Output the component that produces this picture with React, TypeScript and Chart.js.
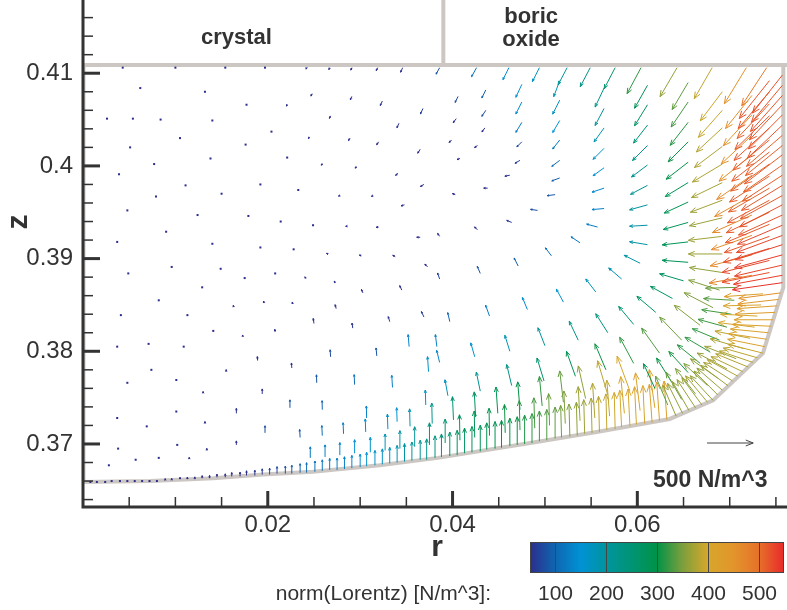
import React, { useEffect, useRef } from 'react';
import { Chart, registerables } from 'chart.js';

Chart.register(...registerables);

// ---------- axes ----------
const rMin = 0;
const rMax = 0.0762;
const zMin = 0.3632;
const zMax = 0.4179;
const xMajorTicks = [0.02, 0.04, 0.06];
const xMinorTicks = [0.005, 0.01, 0.015, 0.025, 0.03, 0.035, 0.045, 0.05, 0.055, 0.065, 0.07, 0.075];
const yMajorTicks = [0.37, 0.38, 0.39, 0.4, 0.41];
const yMinorTicks = [0.364, 0.366, 0.368, 0.372, 0.374, 0.376, 0.378, 0.382, 0.384, 0.386, 0.388, 0.392, 0.394, 0.396, 0.398, 0.402, 0.404, 0.406, 0.408, 0.412, 0.414, 0.416];

// ---------- domain outline ----------
const boundaryR = [0, 0.0073, 0.0141, 0.0195, 0.0249, 0.0321, 0.0384, 0.0484, 0.0556, 0.0635, 0.0682, 0.0736, 0.0758, 0.0758];
const boundaryZ = [0.3659, 0.366, 0.3663, 0.3667, 0.367, 0.3677, 0.3685, 0.3701, 0.3713, 0.3727, 0.3747, 0.3798, 0.3869, 0.4109];
const topLineZ = 0.4109;
const dividerR = 0.039;
const regionLabels = [
  { text: 'crystal', r: 0.0166, z: 0.41313 },
  { text: 'boric', r: 0.0485, z: 0.41539 },
  { text: 'oxide', r: 0.0485, z: 0.41291 },
];

// ---------- colour legend ----------
const cmapValues = [50, 100, 150, 200, 250, 300, 350, 400, 450, 500, 550];
const cmapColors = ['#2c2d8c', '#0f66b1', '#0092d5', '#00949f', '#009474', '#009247', '#7c9f3d', '#d6a72b', '#e2952b', '#e6722a', '#e82a2a'];
const colorbarTicks = [100, 200, 300, 400, 500];
const referenceMagnitude = 500; // N/m^3
const arrowScale = 1e-5; // metres of plot per N/m^3

// ---------- Lorentz force vectors: [r, z, Fr, Fz] ----------
const topRow = [
  [0.0043, 0.4106, -2, -3], [0.01, 0.4106, -2, -4], [0.0154, 0.4106, -3, -6], [0.0197, 0.4106, -4, -10],
  [0.0242, 0.4106, -5, -16], [0.0267, 0.4106, -8, -22], [0.0291, 0.4106, -11, -27], [0.0319, 0.4106, -16, -32],
  [0.0346, 0.4106, -22, -49], [0.0386, 0.4106, -38, -70], [0.0426, 0.4106, -54, -97], [0.0461, 0.4106, -65, -130],
  [0.0494, 0.4106, -76, -151], [0.0524, 0.4106, -97, -184], [0.0549, 0.4106, -108, -205], [0.0576, 0.4106, -119, -227],
  [0.0604, 0.4106, -151, -281], [0.0643, 0.4106, -184, -313], [0.0681, 0.4106, -194, -335], [0.0718, 0.4106, -238, -389],
  [0.074, 0.4106, -270, -410],
];

const wallColumn1 = [
  [0.0757, 0.4098, -324, -410], [0.0757, 0.4087, -335, -400], [0.0757, 0.4076, -346, -389], [0.0757, 0.4066, -356, -378],
  [0.0757, 0.4055, -367, -367], [0.0757, 0.4044, -378, -356], [0.0757, 0.4033, -389, -335], [0.0757, 0.4022, -400, -324],
  [0.0757, 0.4012, -410, -313], [0.0757, 0.4001, -421, -292], [0.0757, 0.399, -432, -281], [0.0757, 0.3979, -443, -270],
  [0.0757, 0.3968, -454, -248], [0.0757, 0.3958, -464, -238], [0.0757, 0.3947, -475, -216], [0.0757, 0.3936, -486, -205],
  [0.0757, 0.3925, -497, -184], [0.0757, 0.3915, -508, -162], [0.0757, 0.3904, -518, -140], [0.0757, 0.3893, -518, -119],
  [0.0757, 0.3882, -529, -97], [0.0757, 0.3874, -540, -76],
];

const wallColumn2 = [
  [0.0743, 0.4092, -326, -408], [0.0743, 0.408, -338, -396], [0.0743, 0.4067, -350, -374], [0.0743, 0.4054, -374, -362],
  [0.0743, 0.4041, -384, -350], [0.0743, 0.4028, -396, -326], [0.0743, 0.4015, -408, -315], [0.0743, 0.4002, -420, -292],
  [0.0743, 0.3989, -432, -280], [0.0743, 0.3976, -443, -257], [0.0743, 0.3963, -455, -245], [0.0743, 0.395, -467, -221],
  [0.0743, 0.3937, -478, -199], [0.0743, 0.3924, -490, -175], [0.0743, 0.3911, -501, -151], [0.0743, 0.3898, -513, -129],
  [0.0743, 0.3885, -513, -105],
];

const wallColumn3 = [
  [0.0724, 0.4076, -285, -356], [0.0724, 0.4055, -309, -332], [0.0724, 0.4033, -332, -309], [0.0724, 0.4012, -356, -285],
  [0.0724, 0.399, -381, -262], [0.0724, 0.3968, -404, -226], [0.0724, 0.3947, -428, -190], [0.0724, 0.3925, -440, -154],
  [0.0724, 0.3904, -451, -119], [0.0724, 0.3882, -463, -84],
];

const bottomRow1 = [
  [0.0008, 0.3659, 0, 5], [0.0015, 0.3659, 0, 5], [0.0024, 0.3659, 0, 6], [0.0031, 0.366, 0, 8], [0.004, 0.366, 0, 9],
  [0.0048, 0.366, 0, 10], [0.0056, 0.366, 0, 11], [0.0064, 0.366, 0, 12], [0.0072, 0.366, 0, 13], [0.008, 0.366, 0, 15],
  [0.0089, 0.3661, 0, 16], [0.0096, 0.3661, 0, 18], [0.0105, 0.3662, 0, 21], [0.0113, 0.3662, 0, 23], [0.0121, 0.3662, 0, 25],
  [0.0129, 0.3663, 0, 28], [0.0137, 0.3663, 0, 31], [0.0145, 0.3664, 0, 35], [0.0154, 0.3664, 0, 38], [0.0161, 0.3665, 0, 42],
  [0.017, 0.3665, 0, 46], [0.0177, 0.3666, 0, 51], [0.0186, 0.3666, 0, 56], [0.0194, 0.3667, 0, 62], [0.0202, 0.3667, 0, 68],
  [0.021, 0.3668, 0, 75], [0.0219, 0.3668, 0, 82], [0.0226, 0.3668, 0, 90], [0.0235, 0.3669, 0, 97], [0.0242, 0.3669, 0, 108],
  [0.0251, 0.367, 0, 116], [0.0259, 0.3671, 0, 119], [0.0267, 0.3672, 0, 124], [0.0275, 0.3672, 0, 127], [0.0283, 0.3673, 0, 132],
  [0.0291, 0.3674, 0, 136], [0.03, 0.3675, 0, 140], [0.0307, 0.3676, 0, 151], [0.0316, 0.3677, 0, 160], [0.0324, 0.3678, 0, 167],
  [0.0332, 0.3679, 0, 173], [0.034, 0.368, 0, 184], [0.0348, 0.3681, 0, 194], [0.0356, 0.3682, 0, 201], [0.0365, 0.3683, 0, 211],
  [0.0372, 0.3683, 0, 225], [0.0381, 0.3685, 0, 238], [0.0388, 0.3686, 0, 248], [0.0397, 0.3687, 0, 259], [0.0405, 0.3688, 0, 268],
  [0.0413, 0.369, 0, 272], [0.0421, 0.3691, 0, 278], [0.043, 0.3692, 0, 283], [0.0437, 0.3694, 0, 288], [0.0446, 0.3695, 0, 292],
  [0.0453, 0.3696, 0, 294], [0.0462, 0.3698, 0, 298], [0.047, 0.3699, 0, 304], [0.0478, 0.37, 0, 311], [0.0486, 0.3701, 0, 318],
  [0.0494, 0.3703, 0, 326], [0.0502, 0.3704, 0, 332], [0.0511, 0.3706, 0, 338], [0.0518, 0.3707, -10, 346], [0.0527, 0.3708, -10, 351],
  [0.0535, 0.3709, -10, 360], [0.0543, 0.3711, -10, 368], [0.0551, 0.3712, -10, 375], [0.0559, 0.3713, -10, 384], [0.0567, 0.3715, -10, 390],
  [0.0576, 0.3716, -10, 396], [0.0583, 0.3718, -20, 399], [0.0592, 0.3719, -20, 403], [0.0599, 0.3721, -20, 408], [0.0608, 0.3722, -20, 410],
  [0.0616, 0.3723, -30, 413], [0.0624, 0.3725, -30, 418], [0.0632, 0.3726, -30, 420],
];

const bottomRow2 = [
  [0.0246, 0.3685, 0, 119], [0.0262, 0.3686, 0, 130], [0.0278, 0.3688, 0, 135], [0.0294, 0.369, 0, 146], [0.0311, 0.3691, 0, 162],
  [0.0327, 0.3693, 0, 178], [0.0343, 0.3695, 0, 194], [0.0359, 0.3697, 0, 216], [0.0375, 0.3699, 0, 238], [0.0392, 0.3701, 0, 259],
  [0.0408, 0.3704, -5, 275], [0.0424, 0.3707, -5, 286], [0.044, 0.3709, -5, 295], [0.0457, 0.3712, -8, 305], [0.0473, 0.3715, -8, 318],
  [0.0489, 0.3717, -10, 328], [0.0505, 0.372, -10, 343], [0.0522, 0.3722, -15, 352], [0.0538, 0.3725, -20, 368], [0.0554, 0.3728, -25, 377],
  [0.057, 0.373, -30, 387], [0.0586, 0.3733, -40, 397], [0.0603, 0.3736, -50, 407], [0.0619, 0.3739, -60, 412],
];

const bottomRow3 = [
  [0.0235, 0.3707, -5, 86], [0.0259, 0.3709, -5, 108], [0.0282, 0.3711, -5, 119], [0.0306, 0.3713, -5, 140], [0.033, 0.3716, -5, 162],
  [0.0354, 0.3719, -5, 189], [0.0378, 0.3722, -5, 221], [0.0401, 0.3726, -11, 250], [0.0425, 0.3729, -15, 272], [0.0449, 0.3733, -20, 285],
  [0.0473, 0.3737, -25, 300], [0.0497, 0.3741, -30, 318], [0.052, 0.3745, -40, 338], [0.0544, 0.3749, -79, 352], [0.0568, 0.3753, -110, 368],
  [0.0592, 0.3757, -139, 377],
];

const cornerFan1 = [
  [0.0642, 0.373, -143, 333], [0.0649, 0.3733, -162, 323], [0.0656, 0.3736, -180, 313], [0.0663, 0.3739, -200, 304],
  [0.067, 0.3742, -218, 295], [0.0676, 0.3745, -238, 285], [0.0682, 0.3747, -247, 266], [0.0687, 0.3753, -257, 257],
  [0.0692, 0.3758, -275, 238], [0.0698, 0.3763, -295, 218], [0.0703, 0.3768, -313, 200], [0.0709, 0.3773, -333, 180],
  [0.0714, 0.3778, -342, 162], [0.072, 0.3783, -352, 143], [0.0725, 0.3788, -361, 123], [0.073, 0.3793, -370, 105],
  [0.0736, 0.3798, -380, 95], [0.0738, 0.3805, -402, 80], [0.074, 0.3813, -412, 60], [0.0742, 0.382, -412, 40],
  [0.0745, 0.3827, -422, 20], [0.0747, 0.3834, -422, 0], [0.0749, 0.3842, -432, -20], [0.0751, 0.3849, -432, -30],
  [0.0753, 0.3856, -442, -50], [0.0755, 0.3863, -452, -60],
];

const cornerFan2 = [
  [0.0633, 0.3742, -133, 313], [0.0648, 0.3748, -171, 295], [0.0663, 0.3754, -218, 275], [0.0676, 0.3763, -257, 238],
  [0.0687, 0.3771, -295, 209], [0.0697, 0.3781, -323, 171], [0.0707, 0.3792, -342, 133], [0.0715, 0.3803, -361, 105],
  [0.0722, 0.3814, -380, 78], [0.0727, 0.3826, -395, 50], [0.073, 0.3838, -400, 20], [0.0734, 0.385, -410, -10],
  [0.0736, 0.3862, -420, -30],
];

const cornerFan3 = [
  [0.0619, 0.376, -123, 266], [0.0637, 0.3767, -162, 257], [0.0655, 0.3777, -209, 228], [0.0668, 0.3787, -247, 200],
  [0.0679, 0.3799, -275, 162], [0.0689, 0.3812, -295, 123], [0.0697, 0.3826, -313, 85], [0.0702, 0.384, -323, 48],
  [0.0705, 0.3855, -333, 19], [0.0708, 0.3869, -342, -10],
];

const arc60 = [
  [0.0395, 0.3752, -32, 173], [0.043, 0.3757, -43, 205], [0.0464, 0.3763, -54, 227], [0.0499, 0.3768, -76, 248],
  [0.0533, 0.3773, -97, 270], [0.0566, 0.378, -119, 281], [0.0596, 0.3787, -151, 281], [0.0624, 0.3798, -194, 270],
  [0.0648, 0.3812, -238, 248], [0.0668, 0.3828, -281, 216], [0.0682, 0.3847, -313, 162], [0.0689, 0.3866, -335, 108],
  [0.0692, 0.3885, -356, 54], [0.0692, 0.3905, -367, 0], [0.0692, 0.3924, -367, -43], [0.0692, 0.3944, -356, -86],
  [0.0692, 0.3963, -346, -130], [0.0692, 0.3982, -335, -162], [0.0692, 0.4002, -324, -194], [0.0692, 0.4021, -302, -227],
  [0.0692, 0.4041, -281, -259], [0.0692, 0.406, -259, -292], [0.0692, 0.408, -238, -313],
];

const arc95 = [
  [0.0386, 0.3788, -32, 130], [0.0424, 0.3794, -43, 151], [0.0462, 0.38, -54, 173], [0.05, 0.3806, -76, 194],
  [0.0536, 0.3812, -97, 205], [0.0568, 0.382, -130, 205], [0.0596, 0.3829, -162, 194], [0.062, 0.3842, -205, 173],
  [0.0638, 0.3857, -238, 130], [0.065, 0.3876, -259, 76], [0.0655, 0.3896, -281, 22], [0.0655, 0.3918, -281, -32],
  [0.0655, 0.3939, -270, -76], [0.0655, 0.3961, -259, -119], [0.0655, 0.3982, -248, -151], [0.0655, 0.4004, -238, -184],
  [0.0655, 0.4026, -216, -216], [0.0655, 0.4047, -194, -248], [0.0655, 0.4069, -184, -270], [0.0655, 0.409, -173, -292],
];

const arc135 = [
  [0.0397, 0.3832, -22, 97], [0.044, 0.3838, -43, 119], [0.0481, 0.3845, -54, 130], [0.052, 0.3853, -76, 140],
  [0.0555, 0.3864, -108, 140], [0.0583, 0.3878, -140, 119], [0.0603, 0.3895, -173, 86], [0.0611, 0.3915, -194, 32],
  [0.0611, 0.3936, -194, -11], [0.0611, 0.3958, -194, -54], [0.0611, 0.3979, -184, -97], [0.0611, 0.4001, -173, -130],
  [0.0611, 0.4022, -162, -162], [0.0611, 0.4044, -151, -194], [0.0611, 0.4066, -140, -227], [0.0611, 0.4087, -140, -248],
];

const arc180 = [
  [0.0386, 0.3878, -22, 65], [0.043, 0.3884, -32, 76], [0.0471, 0.3892, -43, 86], [0.0507, 0.3903, -65, 86],
  [0.0538, 0.3917, -97, 65], [0.0557, 0.3934, -119, 32], [0.0564, 0.3954, -130, -11], [0.0564, 0.3976, -130, -43],
  [0.0564, 0.3998, -119, -86], [0.0564, 0.4019, -119, -119], [0.0564, 0.4041, -108, -151], [0.0564, 0.4062, -97, -184],
  [0.0564, 0.4084, -97, -205],
];

const arc225 = [
  [0.0386, 0.3924, -22, 32], [0.0427, 0.3931, -32, 32], [0.0464, 0.3939, -54, 22], [0.0492, 0.3952, -76, 11],
  [0.0511, 0.3969, -86, -11], [0.0516, 0.3987, -86, -32], [0.0516, 0.4006, -86, -65], [0.0516, 0.4028, -76, -97],
  [0.0516, 0.4049, -76, -130], [0.0516, 0.4071, -76, -151], [0.0516, 0.4092, -65, -173],
];

const arc265 = [
  [0.0403, 0.3969, -32, 11], [0.0438, 0.3976, -43, 0], [0.0462, 0.399, -54, -11], [0.0473, 0.4006, -54, -32],
  [0.0475, 0.4026, -54, -54], [0.0475, 0.4047, -65, -108], [0.0475, 0.4069, -65, -130], [0.0475, 0.4088, -65, -140],
];

const arc300 = [
  [0.0408, 0.4008, -32, -11], [0.0427, 0.4022, -32, -22], [0.0435, 0.4041, -32, -43], [0.0436, 0.406, -43, -65],
  [0.0436, 0.4082, -43, -86],
];

const arc335 = [
  [0.0399, 0.4028, -27, -27], [0.0404, 0.4051, -32, -43], [0.0406, 0.4075, -32, -65],
];

const innerField = [
  [0.0062, 0.4084, -3, -5], [0.0132, 0.408, -3, -9], [0.0248, 0.4078, -13, -27], [0.0291, 0.4075, -16, -38],
  [0.0324, 0.407, -22, -49], [0.0368, 0.4062, -27, -59], [0.0026, 0.4051, -2, -4], [0.0054, 0.4051, -2, -4],
  [0.0084, 0.405, -3, -5], [0.014, 0.4049, -4, -9], [0.0177, 0.4066, -5, -11], [0.0221, 0.4066, -8, -15],
  [0.0268, 0.4054, -13, -27], [0.0342, 0.4046, -22, -49], [0.0051, 0.402, -3, -3], [0.0105, 0.403, -3, -4],
  [0.0176, 0.4023, -5, -8], [0.0204, 0.4037, -6, -11], [0.0245, 0.4031, -10, -16], [0.0289, 0.403, -16, -27],
  [0.032, 0.4026, -22, -32], [0.0365, 0.4018, -27, -43], [0.0077, 0.4002, -3, -3], [0.0039, 0.3991, -3, -1],
  [0.0138, 0.4008, -4, -4], [0.0221, 0.4009, -9, -9], [0.0259, 0.4002, -13, -12], [0.0296, 0.3999, -16, -14],
  [0.0341, 0.3992, -27, -22], [0.0369, 0.398, -38, -22], [0.0111, 0.3979, -4, -2], [0.0079, 0.3967, -4, -1],
  [0.015, 0.397, -5, -2], [0.0192, 0.398, -8, -3], [0.0233, 0.3974, -11, -4], [0.0278, 0.3968, -15, -5],
  [0.0314, 0.3968, -19, -8], [0.0348, 0.3958, -38, -11], [0.0048, 0.3952, -3, 0], [0.0124, 0.3947, -5, 0],
  [0.0179, 0.3946, -6, 0], [0.0214, 0.394, -10, 0], [0.0249, 0.3936, -13, -1], [0.0286, 0.3935, -17, -2],
  [0.032, 0.3934, -27, -2], [0.0365, 0.3923, -38, 0], [0.009, 0.3929, -4, 0], [0.0037, 0.3918, -3, 0],
  [0.014, 0.3916, -5, 1], [0.0192, 0.3912, -9, 2], [0.0228, 0.391, -12, 3], [0.0265, 0.3905, -15, 6],
  [0.0301, 0.3903, -19, 9], [0.0338, 0.3902, -27, 16], [0.0373, 0.3891, -30, 30], [0.0049, 0.3884, -2, 2],
  [0.0096, 0.3891, -3, 3], [0.0149, 0.3889, -4, 5], [0.0175, 0.3879, -5, 8], [0.0208, 0.3884, -8, 9],
  [0.0241, 0.3879, -9, 13], [0.0273, 0.3874, -11, 17], [0.0303, 0.3863, -16, 38], [0.0345, 0.3866, -22, 49],
  [0.0082, 0.3855, -2, 4], [0.0129, 0.3869, -3, 5], [0.0163, 0.3848, -3, 16], [0.0196, 0.3852, -5, 22],
  [0.0227, 0.3851, -5, 22], [0.0274, 0.3846, -11, 43], [0.0292, 0.3825, -8, 54], [0.0332, 0.3832, -16, 54],
  [0.0369, 0.3837, -27, 59], [0.0041, 0.3839, -1, 4], [0.0113, 0.3839, -2, 8], [0.0141, 0.3822, -2, 11],
  [0.0173, 0.3816, -3, 16], [0.0208, 0.3821, -4, 27], [0.025, 0.383, -8, 54], [0.0037, 0.3805, 0, 5],
  [0.0071, 0.3808, 0, 6], [0.0109, 0.3805, 0, 9], [0.0189, 0.379, -3, 43], [0.0226, 0.3782, -4, 54],
  [0.0268, 0.3794, -5, 76], [0.0318, 0.3795, -8, 86], [0.0353, 0.3805, -11, 130], [0.0383, 0.3805, -16, 130],
  [0.0074, 0.378, 0, 6], [0.0048, 0.3766, 0, 5], [0.0101, 0.3769, 0, 9], [0.0155, 0.3778, 0, 22],
  [0.0194, 0.3754, 0, 54], [0.0253, 0.3766, -3, 86], [0.0294, 0.3764, -5, 108], [0.0335, 0.3761, -8, 130],
  [0.0374, 0.3778, -11, 162], [0.0037, 0.3728, 0, 6], [0.0101, 0.3735, 0, 11], [0.013, 0.3755, 0, 16],
  [0.0166, 0.3733, 0, 54], [0.0224, 0.3739, 0, 86], [0.0259, 0.3737, -2, 97], [0.0307, 0.3728, -3, 130],
  [0.034, 0.3724, -5, 151], [0.0371, 0.3742, -5, 162], [0.0069, 0.3719, 0, 8], [0.0132, 0.3722, 0, 22],
  [0.0197, 0.3712, 0, 76], [0.0038, 0.3695, 0, 6], [0.0102, 0.3699, 0, 13], [0.0166, 0.3699, 0, 43],
  [0.0028, 0.3677, 0, 5], [0.0057, 0.3683, 0, 6], [0.0082, 0.3685, 0, 9], [0.0115, 0.3684, 0, 16],
  [0.0134, 0.3693, 0, 22],
];

const FONT = '"Liberation Sans", Arial, Helvetica, sans-serif';
const INK = '#333333';

function hexToRgb(h: string) {
  const n = parseInt(h.slice(1), 16);
  return [(n >> 16) & 255, (n >> 8) & 255, n & 255];
}

function colorFor(v: number): string {
  if (v <= cmapValues[0]) return cmapColors[0];
  const last = cmapValues.length - 1;
  if (v >= cmapValues[last]) return cmapColors[last];
  for (let i = 0; i < last; i++) {
    if (v <= cmapValues[i + 1]) {
      const t = (v - cmapValues[i]) / (cmapValues[i + 1] - cmapValues[i]);
      const a = hexToRgb(cmapColors[i]);
      const b = hexToRgb(cmapColors[i + 1]);
      return `rgb(${Math.round(a[0] + (b[0] - a[0]) * t)},${Math.round(a[1] + (b[1] - a[1]) * t)},${Math.round(a[2] + (b[2] - a[2]) * t)})`;
    }
  }
  return cmapColors[last];
}

function isIn(v: number, list: number[]) {
  return list.some((m) => Math.abs(m - v) < 1e-9);
}

function drawArrow(ctx: CanvasRenderingContext2D, x0: number, y0: number, x1: number, y1: number, maxHead: number) {
  const L = Math.hypot(x1 - x0, y1 - y0);
  const ang = Math.atan2(y1 - y0, x1 - x0);
  const h = Math.min(maxHead, Math.max(2, L * 0.2));
  const w = 0.38;
  ctx.beginPath();
  ctx.moveTo(x0, y0);
  ctx.lineTo(x1, y1);
  ctx.moveTo(x1 - h * Math.cos(ang - w), y1 - h * Math.sin(ang - w));
  ctx.lineTo(x1, y1);
  ctx.lineTo(x1 - h * Math.cos(ang + w), y1 - h * Math.sin(ang + w));
  ctx.stroke();
}

const overlayPlugin = {
  id: 'lorentzOverlay',
  afterDatasetsDraw(chart: any) {
    const { ctx, chartArea: a, scales } = chart;
    const xs = scales.x;
    const ys = scales.y;
    const ds = chart.data.datasets.find((d: any) => d.label === 'Lorentz');
    ctx.save();
    ctx.beginPath();
    ctx.rect(a.left, a.top, a.right - a.left, a.bottom - a.top);
    ctx.clip();
    ctx.lineWidth = 1;
    ctx.lineCap = 'butt';
    for (const p of ds.data) {
      const x0 = xs.getPixelForValue(p.x);
      const y0 = ys.getPixelForValue(p.y);
      const x1 = xs.getPixelForValue(p.x + p.fr * arrowScale);
      const y1 = ys.getPixelForValue(p.y + p.fz * arrowScale);
      const col = colorFor(Math.hypot(p.fr, p.fz));
      const L = Math.hypot(x1 - x0, y1 - y0);
      if (L < 1.4) {
        ctx.fillStyle = col;
        ctx.fillRect(x0 - 1, y0 - 1, 2, 2);
        continue;
      }
      ctx.strokeStyle = col;
      drawArrow(ctx, x0, y0, x1, y1, 8);
    }
    ctx.restore();
  },
  afterDraw(chart: any) {
    const { ctx, chartArea: a, scales } = chart;
    const xs = scales.x;
    const ys = scales.y;
    ctx.save();

    // axis lines
    ctx.strokeStyle = INK;
    ctx.lineWidth = 3;
    ctx.beginPath();
    ctx.moveTo(a.left, a.top);
    ctx.lineTo(a.left, a.bottom + 1.5);
    ctx.moveTo(a.left - 1.5, a.bottom);
    ctx.lineTo(a.right, a.bottom);
    ctx.stroke();

    // inward tick marks
    for (const t of xs.ticks) {
      const px = xs.getPixelForValue(t.value);
      const major = isIn(t.value, xMajorTicks);
      ctx.lineWidth = major ? 3 : 1.5;
      ctx.beginPath();
      ctx.moveTo(px, a.bottom);
      ctx.lineTo(px, a.bottom - (major ? 16 : 10));
      ctx.stroke();
    }
    for (const t of ys.ticks) {
      const py = ys.getPixelForValue(t.value);
      const major = isIn(t.value, yMajorTicks);
      ctx.lineWidth = major ? 3 : 1.5;
      ctx.beginPath();
      ctx.moveTo(a.left, py);
      ctx.lineTo(a.left + (major ? 17 : 10), py);
      ctx.stroke();
    }

    // axis titles
    ctx.fillStyle = INK;
    ctx.font = `bold 30px ${FONT}`;
    ctx.textAlign = 'center';
    ctx.textBaseline = 'alphabetic';
    ctx.fillText('r', 437, 556);
    ctx.save();
    ctx.translate(19, 222);
    ctx.rotate(-Math.PI / 2);
    ctx.fillText('z', 0, 8);
    ctx.restore();

    // region labels
    ctx.font = `bold 22px ${FONT}`;
    for (const l of regionLabels) {
      ctx.fillText(l.text, xs.getPixelForValue(l.r), ys.getPixelForValue(l.z));
    }

    // reference vector
    const refLen = xs.getPixelForValue(referenceMagnitude * arrowScale) - xs.getPixelForValue(0);
    ctx.strokeStyle = '#444';
    ctx.lineWidth = 1;
    drawArrow(ctx, 707, 443, 707 + refLen, 443, 8);
    ctx.fillStyle = INK;
    ctx.font = `bold 23px ${FONT}`;
    ctx.textAlign = 'left';
    ctx.fillText(`${referenceMagnitude} N/m^3`, 653, 487);

    // colour bar
    const cbL = 530;
    const cbR = 784;
    const cbT = 542;
    const cbB = 573;
    const span = cmapValues[cmapValues.length - 1] - cmapValues[0];
    const grad = ctx.createLinearGradient(cbL, 0, cbR, 0);
    cmapValues.forEach((v, i) => grad.addColorStop((v - cmapValues[0]) / span, cmapColors[i]));
    ctx.fillStyle = grad;
    ctx.fillRect(cbL, cbT, cbR - cbL, cbB - cbT);
    ctx.strokeStyle = '#444';
    ctx.lineWidth = 1;
    ctx.strokeRect(cbL + 0.5, cbT + 0.5, cbR - cbL - 1, cbB - cbT - 1);
    ctx.fillStyle = INK;
    ctx.font = `21px ${FONT}`;
    ctx.textAlign = 'center';
    ctx.textBaseline = 'middle';
    for (const v of colorbarTicks) {
      const px = Math.round(cbL + ((v - cmapValues[0]) / span) * (cbR - cbL)) + 0.5;
      ctx.beginPath();
      ctx.moveTo(px, cbT);
      ctx.lineTo(px, cbB);
      ctx.stroke();
      ctx.fillText(String(v), px, 594);
    }
    ctx.textAlign = 'right';
    ctx.fillText('norm(Lorentz) [N/m^3]:', 491, 594);

    ctx.restore();
  },
};

function toPoints(rows: number[][]) {
  return rows.map((r) => ({ x: r[0], y: r[1], fr: r[2], fz: r[3] }));
}

export default function App() {
  const ref = useRef<HTMLCanvasElement>(null);

  useEffect(() => {
    const allArrows = [
      ...innerField, ...arc335, ...arc300, ...arc265, ...arc225, ...arc180, ...arc135, ...arc95, ...arc60,
      ...bottomRow3, ...bottomRow2, ...bottomRow1, ...cornerFan3, ...cornerFan2, ...cornerFan1,
      ...topRow, ...wallColumn3, ...wallColumn2, ...wallColumn1,
    ];
    const outline = boundaryR.map((r, i) => ({ x: r, y: boundaryZ[i] }));
    const gray = '#cdc7c3';
    const chart = new Chart(ref.current as HTMLCanvasElement, {
      type: 'scatter',
      data: {
        datasets: [
          { label: 'outline', data: outline, showLine: true, borderColor: gray, borderWidth: 4, pointRadius: 0, fill: false },
          { label: 'top', data: [{ x: rMin, y: topLineZ }, { x: rMax, y: topLineZ }], showLine: true, borderColor: gray, borderWidth: 4, pointRadius: 0 },
          { label: 'divider', data: [{ x: dividerR, y: topLineZ }, { x: dividerR, y: zMax }], showLine: true, borderColor: gray, borderWidth: 4, pointRadius: 0 },
          { label: 'axisline', data: [{ x: 0, y: boundaryZ[0] }, { x: 0, y: topLineZ }], showLine: true, borderColor: gray, borderWidth: 5, pointRadius: 0 },
          { label: 'Lorentz', data: toPoints(allArrows), showLine: false, pointRadius: 0 },
        ],
      } as any,
      options: {
        animation: false,
        responsive: false,
        devicePixelRatio: 1,
        events: [],
        layout: { padding: 0 },
        plugins: { legend: { display: false }, tooltip: { enabled: false }, title: { display: false } },
        scales: {
          x: {
            type: 'linear',
            min: rMin,
            max: rMax,
            afterBuildTicks: (s: any) => {
              s.ticks = [...xMajorTicks, ...xMinorTicks].sort((p, q) => p - q).map((v) => ({ value: v }));
            },
            afterFit: (s: any) => {
              s.height = 103;
              s.paddingLeft = 0;
              s.paddingRight = 0;
            },
            grid: { display: false, drawTicks: false },
            border: { display: false },
            ticks: {
              autoSkip: false,
              maxRotation: 0,
              padding: 4,
              color: INK,
              font: { family: FONT, size: 24 },
              callback: (v: any) => (isIn(Number(v), xMajorTicks) ? String(+Number(v).toFixed(3)) : ''),
            },
          },
          y: {
            type: 'linear',
            min: zMin,
            max: zMax,
            afterBuildTicks: (s: any) => {
              s.ticks = [...yMajorTicks, ...yMinorTicks].sort((p, q) => p - q).map((v) => ({ value: v }));
            },
            afterFit: (s: any) => {
              s.width = 83;
              s.paddingTop = 0;
              s.paddingBottom = 0;
            },
            grid: { display: false, drawTicks: false },
            border: { display: false },
            ticks: {
              autoSkip: false,
              padding: 10,
              color: INK,
              font: { family: FONT, size: 24 },
              callback: (v: any) => (isIn(Number(v), yMajorTicks) ? String(+Number(v).toFixed(3)) : ''),
            },
          },
        },
      } as any,
      plugins: [overlayPlugin],
    });
    return () => chart.destroy();
  }, []);

  return (
    <div style={{ position: 'absolute', left: 0, top: 0, width: 787, height: 610, background: '#fff' }}>
      <canvas ref={ref} width={787} height={610} style={{ display: 'block', width: 787, height: 610 }} />
    </div>
  );
}
